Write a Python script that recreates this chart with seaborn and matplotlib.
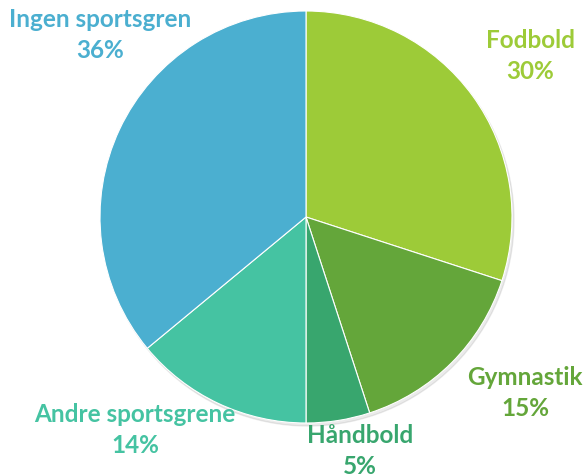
import matplotlib.pyplot as plt
import seaborn as sns

sns.set_theme(style="white")
plt.rcParams['font.family'] = ['Lato', 'DejaVu Sans']

categories = ['Fodbold', 'Gymnastik', 'Håndbold', 'Andre sportsgrene', 'Ingen sportsgren']
shares = [30, 15, 5, 14, 36]
colors = ['#9DCB38', '#64A63A', '#38A66E', '#45C3A2', '#4BAFD0']
# label centres in pixel coords (x, y from top)
label_pos = [(530, 56), (525, 393), (360, 451), (135, 430), (100, 35)]

fig = plt.figure(figsize=(5.87, 4.77), dpi=100)
ax = fig.add_axes([0, 0, 1, 1])

# soft shadow
shadow = plt.Circle((308, 221), 206, color='#000000', alpha=0.08, zorder=0)
ax.add_patch(shadow)

# y axis is flipped below, so startangle -90 ends up at the top, going clockwise
wedges, _ = ax.pie(shares, colors=colors, startangle=-90, counterclock=True,
                   center=(306, 218), radius=206, frame=True,
                   wedgeprops=dict(edgecolor='white', linewidth=0.8))
ax.set_xlim(0, 587)
ax.set_ylim(477, 0)
ax.set_aspect('equal')
ax.axis('off')

for cat, val, col, (x, y) in zip(categories, shares, colors, label_pos):
    ax.text(x, y, f'{cat}\n{val}%', color=col, ha='center', va='center',
            fontsize=17.5, fontweight='bold', linespacing=1.4)

fig.savefig('out.png', dpi=100)
